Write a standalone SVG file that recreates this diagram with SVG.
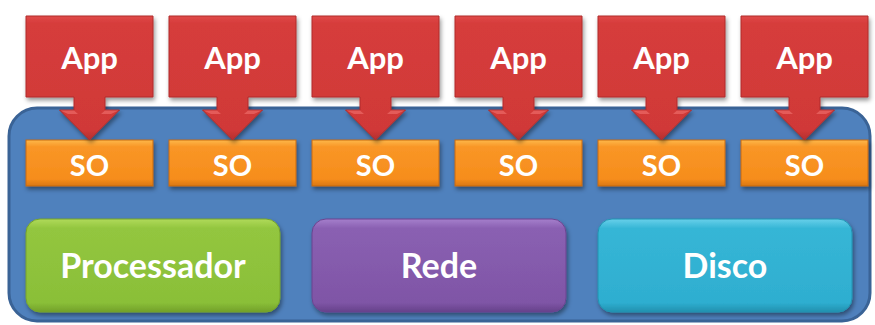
<svg xmlns="http://www.w3.org/2000/svg" width="875" height="325" viewBox="0 0 875 325">
  <defs>
    <style>
      .lbl { font-family: Lato, "Open Sans", "Liberation Sans", sans-serif; font-weight: 700; fill: #ffffff; text-anchor: middle; }
      .app-t { font-size: 31px; }
      .so-t { font-size: 29px; }
      .big-t { font-size: 34px; }
      .app { fill: url(#gRed); stroke: #b02c2b; stroke-width: 1; filter: url(#shadow); }
      .wing { fill: #e86462; opacity: 0.8; }
      .so { fill: url(#gOrange); stroke: #c76a10; stroke-width: 1; filter: url(#shadow); }
      .proc { fill: url(#gGreen); stroke: #76a32c; stroke-width: 1; filter: url(#shadow); }
      .rede { fill: url(#gPurple); stroke: #6a4590; stroke-width: 1; filter: url(#shadow); }
      .disco { fill: url(#gCyan); stroke: #2393b2; stroke-width: 1; filter: url(#shadow); }
    </style>
    <filter id="shadow" x="-10%" y="-10%" width="125%" height="135%">
      <feDropShadow dx="1.5" dy="3" stdDeviation="2" flood-color="#000" flood-opacity="0.4"/>
    </filter>
    <linearGradient id="gRed" x1="0" y1="0" x2="0" y2="1">
      <stop offset="0" stop-color="#e04a49"/>
      <stop offset="0.06" stop-color="#d63c3b"/>
      <stop offset="0.92" stop-color="#d03938"/>
      <stop offset="1" stop-color="#b42f2e"/>
    </linearGradient>
    <linearGradient id="gOrange" x1="0" y1="0" x2="0" y2="1">
      <stop offset="0" stop-color="#fdb84a"/>
      <stop offset="0.15" stop-color="#f99626"/>
      <stop offset="0.85" stop-color="#f68d1c"/>
      <stop offset="1" stop-color="#d9770f"/>
    </linearGradient>
    <linearGradient id="gGreen" x1="0" y1="0" x2="0" y2="1">
      <stop offset="0" stop-color="#b0da5a"/>
      <stop offset="0.1" stop-color="#93c63f"/>
      <stop offset="0.9" stop-color="#8abf38"/>
      <stop offset="1" stop-color="#72a02a"/>
    </linearGradient>
    <linearGradient id="gPurple" x1="0" y1="0" x2="0" y2="1">
      <stop offset="0" stop-color="#a57fcc"/>
      <stop offset="0.1" stop-color="#8a60b2"/>
      <stop offset="0.9" stop-color="#7f55a6"/>
      <stop offset="1" stop-color="#65418a"/>
    </linearGradient>
    <linearGradient id="gCyan" x1="0" y1="0" x2="0" y2="1">
      <stop offset="0" stop-color="#68d0ea"/>
      <stop offset="0.1" stop-color="#36b6d6"/>
      <stop offset="0.9" stop-color="#2eaed0"/>
      <stop offset="1" stop-color="#2290ae"/>
    </linearGradient>
    <!-- callout box with a down arrow, origin at the top-left corner -->
    <path id="callout" d="M0,0 H127 V81 H79 V94 H93.5 L63.5,124 L33.5,94 H48 V81 H0 Z"/>
    <!-- bevel highlights on the arrowhead wings -->
    <path id="wings" d="M34.5,94.5 H48 L52,98 H42 Z M92.5,94.5 H79 L75,98 H85 Z"/>
  </defs>

  <!-- host machine -->
  <g id="host">
    <rect x="9" y="108" width="861" height="213" rx="28" fill="#4f81bd" stroke="#3a6396" stroke-width="3"/>
  </g>

  <!-- hardware resources -->
  <g id="processador">
    <rect class="proc" x="26" y="219" width="254" height="93" rx="14"/>
    <text class="lbl big-t" x="153" y="278">Processador</text>
  </g>
  <g id="rede">
    <rect class="rede" x="312" y="219" width="254" height="93" rx="14"/>
    <text class="lbl big-t" x="439" y="278">Rede</text>
  </g>
  <g id="disco">
    <rect class="disco" x="598" y="219" width="254" height="93" rx="14"/>
    <text class="lbl big-t" x="725" y="278">Disco</text>
  </g>

  <!-- operating system instances -->
  <g id="so1"><rect class="so" x="26" y="140" width="127" height="46"/><text class="lbl so-t" x="89.5" y="176">SO</text></g>
  <g id="so2"><rect class="so" x="169" y="140" width="127" height="46"/><text class="lbl so-t" x="232.5" y="176">SO</text></g>
  <g id="so3"><rect class="so" x="312" y="140" width="127" height="46"/><text class="lbl so-t" x="375.5" y="176">SO</text></g>
  <g id="so4"><rect class="so" x="455" y="140" width="127" height="46"/><text class="lbl so-t" x="518.5" y="176">SO</text></g>
  <g id="so5"><rect class="so" x="598" y="140" width="127" height="46"/><text class="lbl so-t" x="661.5" y="176">SO</text></g>
  <g id="so6"><rect class="so" x="741" y="140" width="127" height="46"/><text class="lbl so-t" x="804.5" y="176">SO</text></g>

  <!-- applications, each pointing down to its operating system -->
  <g id="connectors">
    <g id="app1" transform="translate(26,16)"><use href="#callout" class="app"/><use href="#wings" class="wing"/><text class="lbl app-t" x="63.5" y="53">App</text></g>
    <g id="app2" transform="translate(169,16)"><use href="#callout" class="app"/><use href="#wings" class="wing"/><text class="lbl app-t" x="63.5" y="53">App</text></g>
    <g id="app3" transform="translate(312,16)"><use href="#callout" class="app"/><use href="#wings" class="wing"/><text class="lbl app-t" x="63.5" y="53">App</text></g>
    <g id="app4" transform="translate(455,16)"><use href="#callout" class="app"/><use href="#wings" class="wing"/><text class="lbl app-t" x="63.5" y="53">App</text></g>
    <g id="app5" transform="translate(598,16)"><use href="#callout" class="app"/><use href="#wings" class="wing"/><text class="lbl app-t" x="63.5" y="53">App</text></g>
    <g id="app6" transform="translate(741,16)"><use href="#callout" class="app"/><use href="#wings" class="wing"/><text class="lbl app-t" x="63.5" y="53">App</text></g>
  </g>
</svg>
